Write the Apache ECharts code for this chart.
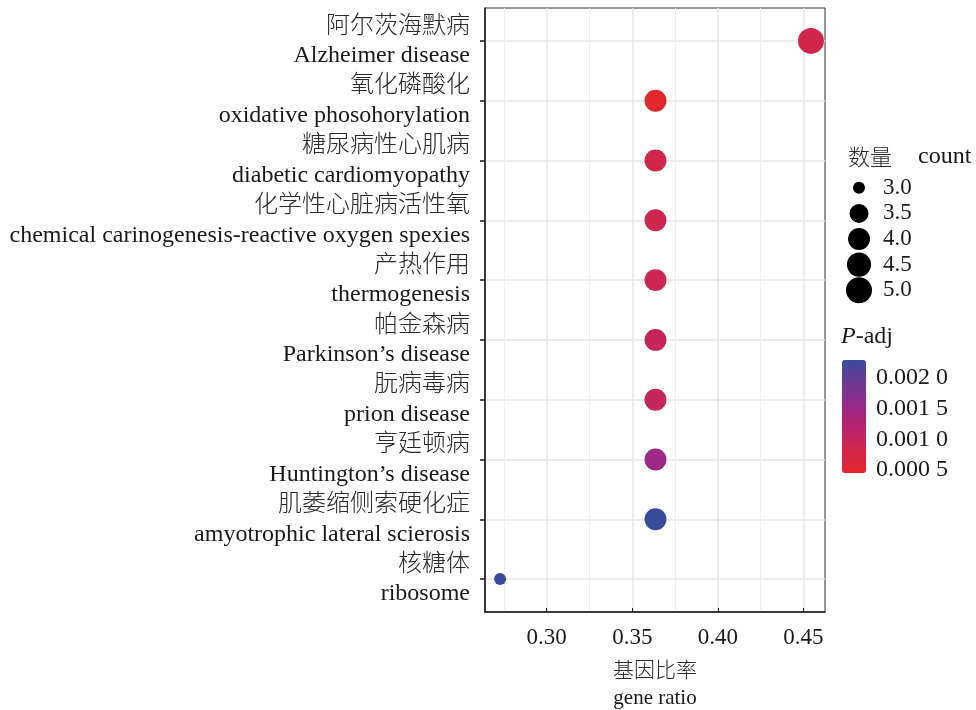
<!DOCTYPE html>
<html><head><meta charset="utf-8">
<script src="https://cdn.jsdelivr.net/npm/echarts@6/dist/echarts.min.js"></script>
<style>html,body{margin:0;padding:0;background:#fff}#c{width:976px;height:710px}</style>
</head><body><div id="c"></div>
<script>
const pathwaysZh = ['阿尔茨海默病','氧化磷酸化','糖尿病性心肌病','化学性心脏病活性氧','产热作用','帕金森病','朊病毒病','亨廷顿病','肌萎缩侧索硬化症','核糖体'];
const pathwaysEn = ['Alzheimer disease','oxidative phosohorylation','diabetic cardiomyopathy','chemical carinogenesis-reactive oxygen spexies','thermogenesis','Parkinson’s disease','prion disease','Huntington’s disease','amyotrophic lateral scierosis','ribosome'];
const geneRatio = [0.4545,0.3636,0.3636,0.3636,0.3636,0.3636,0.3636,0.3636,0.3636,0.2727];
const counts = [5,4,4,4,4,4,4,4,4,3];
const padj = [0.00082,0.00045,0.00082,0.00086,0.00088,0.00097,0.00099,0.00150,0.00229,0.00229];
const xTicks = [0.30,0.35,0.40,0.45];
const xMinorTicks = [0.275,0.325,0.375,0.425];
const sizeLegend = [3.0,3.5,4.0,4.5,5.0];
const padjTicks = [0.0005,0.0010,0.0015,0.0020];

const FONT = '"Liberation Serif", serif';
const CJK = '"Noto Sans CJK SC", sans-serif';
const TXT = '#1a1a1a';
const ZH_COLOR = '#2b2b2b';
const cMin = Math.min(...counts), cMax = Math.max(...counts);
const sz = c => 12 + 14 * Math.sqrt((c - cMin) / (cMax - cMin));
const pMin = Math.min(...padj), pMax = Math.max(...padj);
const idx = pathwaysZh.map((_, i) => i);
const axisLineStyle = {color: TXT, width: 1.5};

const chart = echarts.init(document.getElementById('c'), null, {renderer: 'canvas'});
chart.setOption({
  backgroundColor: '#fff',
  animation: false,
  textStyle: {fontFamily: FONT},
  title: [
    {text: '数量', left: 848, top: 146, padding: 0, textStyle: {fontSize: 22, fontWeight: 300, fontFamily: CJK, color: ZH_COLOR}},
    {text: 'count', left: 918, top: 145, padding: 0, textStyle: {fontSize: 24, fontWeight: 'normal', fontFamily: FONT, color: TXT}},
    {text: '{i|P}-adj', left: 841, top: 325, padding: 0, textStyle: {fontSize: 24, fontWeight: 'normal', fontFamily: FONT, color: TXT,
      rich: {i: {fontStyle: 'italic', fontSize: 24, fontFamily: FONT, color: TXT}}}}
  ],
  grid: [
    {left: 485, top: 8, width: 340, height: 604, show: true, borderColor: '#333', borderWidth: 1, outerBoundsMode: 'none', containLabel: false},
    {left: 846, top: 175, width: 26, height: 128, outerBoundsMode: 'none', containLabel: false},
    {left: 842, top: 360, width: 24, height: 113, outerBoundsMode: 'none', containLabel: false}
  ],
  xAxis: [
    {gridIndex: 0, type: 'value', min: 0.2639, max: 0.4627, position: 'bottom',
      axisLine: {show: true, onZero: false, lineStyle: axisLineStyle},
      axisTick: {show: true, inside: true, length: 4, customValues: xTicks, lineStyle: {color: TXT, width: 1}},
      axisLabel: {customValues: xTicks, formatter: v => v.toFixed(2), fontSize: 23, fontFamily: FONT, color: TXT, margin: 14},
      splitLine: {show: true, lineStyle: {color: '#E6E6E6', width: 1.5}},
      name: '{zh|基因比率}\n{en|gene ratio}', nameLocation: 'middle', nameGap: 41,
      nameTextStyle: {fontSize: 21, lineHeight: 30, fontFamily: FONT, color: TXT,
        rich: {zh: {fontSize: 21, lineHeight: 30, fontFamily: CJK, fontWeight: 300, color: ZH_COLOR},
               en: {fontSize: 21, lineHeight: 30, fontFamily: FONT, color: TXT}}}},
    {gridIndex: 0, type: 'value', min: 0.2639, max: 0.4627, position: 'top',
      axisLine: {show: false}, axisTick: {show: false, customValues: xMinorTicks},
      axisLabel: {show: false, customValues: xMinorTicks},
      splitLine: {show: true, lineStyle: {color: '#EEEEEE', width: 1}}},
    {gridIndex: 1, type: 'value', min: -1, max: 1, show: false},
    {gridIndex: 2, type: 'value', min: 0, max: 1, show: false}
  ],
  yAxis: [
    {gridIndex: 0, type: 'value', min: -0.55, max: 9.55, inverse: true,
      axisLine: {show: true, onZero: false, lineStyle: axisLineStyle},
      axisTick: {show: true, length: 5, customValues: idx, lineStyle: {color: TXT, width: 1.5}},
      axisLabel: {customValues: idx, formatter: v => '{zh|' + pathwaysZh[v] + '}\n{en|' + pathwaysEn[v] + '}',
        showMinLabel: true, showMaxLabel: true, hideOverlap: false,
        fontSize: 24, lineHeight: 29, fontFamily: FONT, color: TXT, align: 'right', margin: 15,
        rich: {zh: {fontSize: 24, lineHeight: 30, verticalAlign: 'top', fontFamily: CJK, fontWeight: 300, color: ZH_COLOR, align: 'right'},
               en: {fontSize: 24, lineHeight: 29, fontFamily: FONT, color: TXT, align: 'right'}}},
      splitLine: {show: true, lineStyle: {color: '#E6E6E6', width: 1.5}}},
    {gridIndex: 1, type: 'category', data: sizeLegend.map(s => s.toFixed(1)), inverse: true, position: 'right',
      axisLine: {show: false}, axisTick: {show: false}, splitLine: {show: false},
      axisLabel: {interval: 0, showMinLabel: true, showMaxLabel: true, fontSize: 23, fontFamily: FONT, color: TXT, margin: 11, align: 'left'}},
    {gridIndex: 2, type: 'value', min: pMin, max: pMax, position: 'right',
      axisLine: {show: false}, splitLine: {show: false},
      axisTick: {show: true, inside: true, length: 4, customValues: padjTicks, lineStyle: {color: '#fff', width: 1}},
      axisLabel: {customValues: padjTicks, fontSize: 24, fontFamily: FONT, color: TXT, margin: 10,
        formatter: v => { const s = v.toFixed(4); return s.slice(0, 5) + ' ' + s.slice(5); }}}
  ],
  visualMap: [{
    type: 'continuous', seriesIndex: 0, dimension: 2, min: pMin, max: pMax,
    left: 842, top: 360, itemWidth: 24, itemHeight: 113, padding: 0,
    text: null, calculable: false, realtime: false, hoverLink: false,
    inRange: {color: ['#E3282B', '#D0264B', '#B8246E', '#98298A', '#6C3893', '#3B4B9C']}
  }],
  series: [
    {type: 'scatter', xAxisIndex: 0, yAxisIndex: 0, z: 5,
      data: geneRatio.map((r, i) => [r, i, padj[i], counts[i]]),
      symbolSize: d => sz(d[3]), itemStyle: {opacity: 1}},
    {type: 'scatter', xAxisIndex: 2, yAxisIndex: 1,
      data: sizeLegend.map((s, i) => [0, i, s]),
      symbolSize: d => sz(d[2]), itemStyle: {color: '#000', opacity: 1}}
  ]
});
</script></body></html>
